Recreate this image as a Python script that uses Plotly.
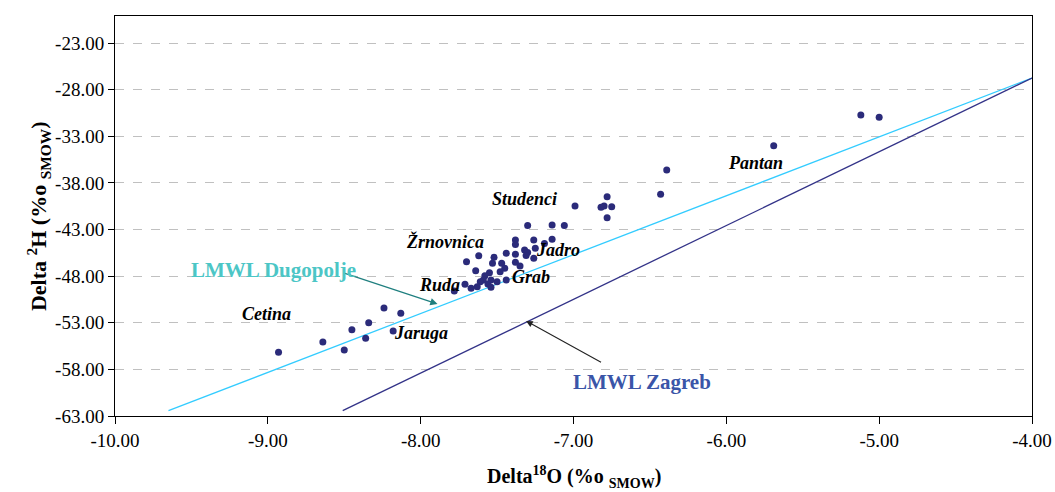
import plotly.graph_objects as go

# Sample data: delta 18O (x) and delta 2H (y)
d18O = [-5.12, -5.00, -5.69,
        -6.39, -6.43, -6.78, -6.82, -6.80, -6.75, -6.78, -6.99,
        -7.30, -7.14, -7.06,
        -7.38, -7.38, -7.26, -7.14, -7.19, -7.25, -7.32, -7.30, -7.31, -7.26,
        -7.38, -7.44, -7.52, -7.62, -7.70, -7.47, -7.53, -7.38, -7.35, -7.45,
        -7.64, -7.55, -7.48, -7.58, -7.59, -7.54, -7.50, -7.61, -7.44, -7.56,
        -7.54, -7.63, -7.67, -7.71, -7.78,
        -8.93, -8.64, -8.50, -8.45, -8.36, -8.34, -8.24, -8.18, -8.13]
d2H = [-30.72, -30.97, -34.01,
       -36.62, -39.23, -39.48, -40.62, -40.48, -40.55, -41.73, -40.48,
       -42.57, -42.52, -42.57,
       -44.13, -44.61, -44.13, -44.05, -44.50, -45.02, -45.20, -45.47, -45.79, -46.09,
       -45.66, -45.55, -45.98, -45.81, -46.45, -46.62, -46.62, -46.52, -46.91, -47.16,
       -47.42, -47.63, -47.53, -47.95, -48.42, -48.42, -48.60, -48.60, -48.42, -48.84,
       -49.20, -49.13, -49.31, -48.88, -49.60,
       -56.17, -55.06, -55.92, -53.75, -54.67, -53.00, -51.42, -53.88, -51.99]

# Local meteoric water lines (end points)
lmwl_dugopolje_x = [-9.65, -4.00]
lmwl_dugopolje_y = [-62.43, -26.75]
lmwl_zagreb_x = [-8.51, -4.00]
lmwl_zagreb_y = [-62.43, -26.75]

# Site labels
site_names = ["Pantan", "Studenci", "Žrnovnica", "Jadro", "Grab", "Ruda", "Cetina", "Jaruga"]
site_x = [-5.81, -7.32, -7.84, -7.10, -7.28, -7.88, -9.01, -8.00]
site_y = [-35.87, -39.7, -44.3, -45.2, -48.06, -48.9, -52.06, -54.1]

x_ticks = [-10, -9, -8, -7, -6, -5, -4]
x_ticklabels = ["-10.00", "-9.00", "-8.00", "-7.00", "-6.00", "-5.00", "-4.00"]
y_ticks = [-63, -58, -53, -48, -43, -38, -33, -28, -23]
y_ticklabels = ["-63.00", "-58.00", "-53.00", "-48.00", "-43.00", "-38.00", "-33.00", "-28.00", "-23.00"]

FONT = "Liberation Serif, Times New Roman, serif"

fig = go.Figure()
fig.add_trace(go.Scatter(x=lmwl_dugopolje_x, y=lmwl_dugopolje_y, mode="lines",
                         line=dict(color="#33CCFF", width=1.3), showlegend=False))
fig.add_trace(go.Scatter(x=lmwl_zagreb_x, y=lmwl_zagreb_y, mode="lines",
                         line=dict(color="#333388", width=1.3), showlegend=False))
fig.add_trace(go.Scatter(x=d18O, y=d2H, mode="markers",
                         marker=dict(color="#2B2B7A", size=7), showlegend=False))

annotations = []
for name, xx, yy in zip(site_names, site_x, site_y):
    annotations.append(dict(x=xx, y=yy, text="<b><i>%s</i></b>" % name, showarrow=False,
                            font=dict(family=FONT, size=18, color="black")))

# Line labels with arrows
annotations.append(dict(x=-7.89, y=-50.99, ax=-8.51, ay=-47.63, xref="x", yref="y",
                        axref="x", ayref="y", text="", showarrow=True, arrowhead=2,
                        arrowsize=1.2, arrowwidth=1.2, arrowcolor="#1F7F7F", standoff=0))
annotations.append(dict(x=-8.96, y=-47.35, text="<b>LMWL Dugopolje</b>", showarrow=False,
                        font=dict(family=FONT, size=21, color="#4CC6C6")))
annotations.append(dict(x=-7.31, y=-52.81, ax=-6.81, ay=-57.32, xref="x", yref="y",
                        axref="x", ayref="y", text="", showarrow=True, arrowhead=2,
                        arrowsize=1.2, arrowwidth=1.1, arrowcolor="#222222", standoff=0))
annotations.append(dict(x=-6.55, y=-59.32, text="<b>LMWL Zagreb</b>", showarrow=False,
                        font=dict(family=FONT, size=21, color="#3A55A8")))

# Axis titles
annotations.append(dict(x=0.5, y=-0.152, xref="paper", yref="paper", yanchor="middle",
                        text="<b>Delta<sup>18</sup>O (%o <sub>SMOW</sub>)</b>", showarrow=False,
                        font=dict(family=FONT, size=20, color="black")))
annotations.append(dict(x=-0.103, y=0.5, xref="paper", yref="paper", textangle=-90,
                        text="<b>Delta <sup>2</sup>H (%o <sub>SMOW</sub>)</b>", showarrow=False,
                        font=dict(family=FONT, size=22, color="black")))

fig.update_layout(
    width=1055, height=492,
    margin=dict(l=115, r=23, t=16, b=76),
    paper_bgcolor="white", plot_bgcolor="white",
    font=dict(family=FONT, size=19, color="black"),
    annotations=annotations,
)
fig.update_xaxes(range=[-10, -4], tickvals=x_ticks, ticktext=x_ticklabels, automargin=False,
                 showgrid=False, zeroline=False, showline=True, linecolor="black",
                 linewidth=1, mirror=True, ticks="outside", ticklen=7, tickcolor="black")
fig.update_yaxes(range=[-63, -20.1], tickvals=y_ticks, ticktext=y_ticklabels, automargin=False,
                 showgrid=True, gridcolor="#C0C0C0", griddash="dash", gridwidth=1,
                 zeroline=False, showline=True, linecolor="black",
                 linewidth=1, mirror=True, ticks="outside", ticklen=6, tickcolor="black")

fig.write_html("out.html", config={"displayModeBar": False},
               post_script="document.body.style.margin='0';document.body.style.overflow='hidden';")
